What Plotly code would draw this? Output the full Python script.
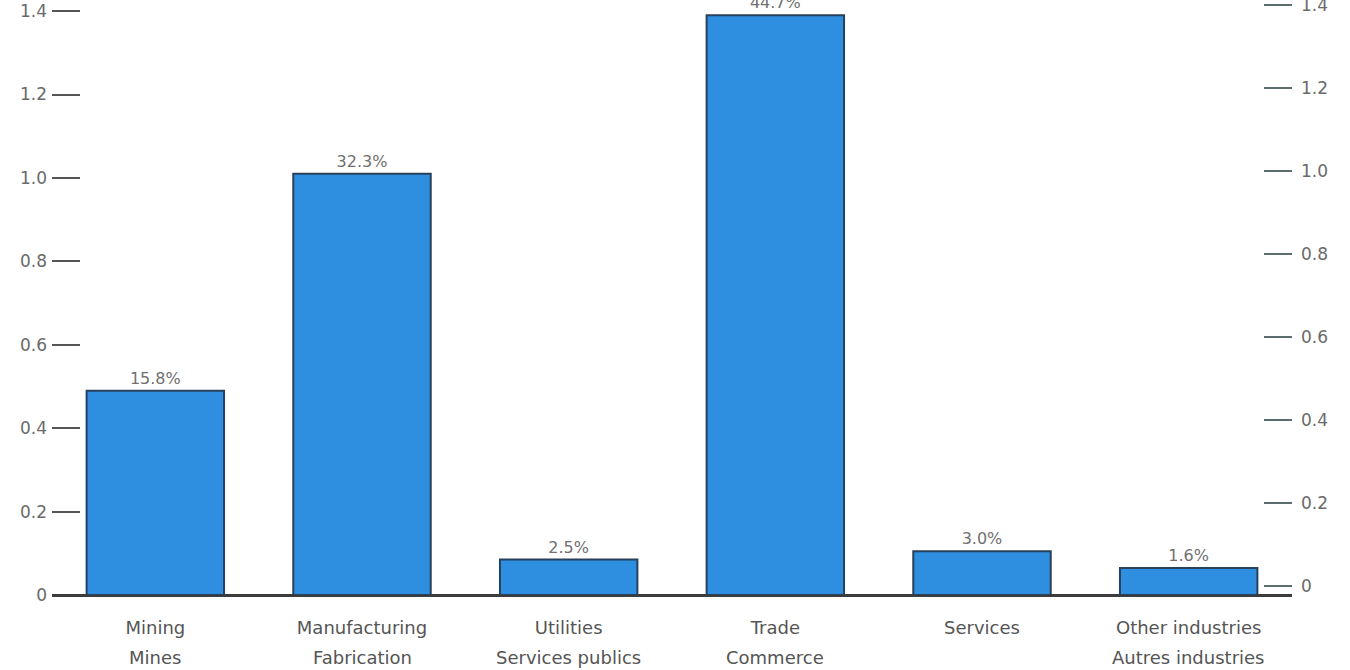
import plotly.graph_objects as go

categories_en = ["Mining", "Manufacturing", "Utilities", "Trade", "Services", "Other industries"]
categories_fr = ["Mines", "Fabrication", "Services publics", "Commerce", "", "Autres industries"]
values = [0.49, 1.01, 0.085, 1.39, 0.105, 0.065]
shares = ["15.8%", "32.3%", "2.5%", "44.7%", "3.0%", "1.6%"]
tick_vals = [0, 0.2, 0.4, 0.6, 0.8, 1.0, 1.2, 1.4]
tick_text = ["0", "0.2", "0.4", "0.6", "0.8", "1.0", "1.2", "1.4"]

FONT = "DejaVu Sans, Arial, sans-serif"

fig = go.Figure()
fig.add_trace(go.Bar(
    x=categories_en, y=values, text=shares, textposition="outside",
    cliponaxis=False,
    textfont=dict(family=FONT, size=16, color="#707070"),
    marker=dict(color="#2e8ee0", line=dict(color="#27415c", width=2)),
    width=0.665, showlegend=False, hoverinfo="skip",
))
# invisible trace so the right axis is drawn
fig.add_trace(go.Scatter(x=[categories_en[0]], y=[0], yaxis="y2", mode="markers",
                         marker=dict(opacity=0), showlegend=False, hoverinfo="skip"))

for cat, fr in zip(categories_en, categories_fr):
    if fr:
        fig.add_annotation(x=cat, xref="x", y=0, yref="paper", yshift=-62,
                           text=fr, showarrow=False, yanchor="middle",
                           font=dict(family=FONT, size=18, color="#555555"))

fig.update_layout(
    width=1350, height=670,
    margin=dict(l=52, r=58, t=4, b=75),
    paper_bgcolor="white", plot_bgcolor="white",
    xaxis=dict(showline=False, showgrid=False, zeroline=False, ticks="",
               tickfont=dict(family=FONT, size=18, color="#555555"),
               ticklabelstandoff=20, automargin=False),
    yaxis=dict(range=[0, 1.417], tickvals=tick_vals, ticktext=tick_text,
               showgrid=False, showline=False, zeroline=True, zerolinecolor="#3c3c3c",
               zerolinewidth=3, ticks="inside", ticklen=28, tickwidth=2, tickcolor="#555555",
               tickfont=dict(family=FONT, size=17, color="#6a6a6a"),
               ticklabelstandoff=4, automargin=False, ticklabeloverflow="allow"),
    yaxis2=dict(range=[-0.0217, 1.4035], overlaying="y", side="right",
                tickvals=tick_vals, ticktext=tick_text,
                showgrid=False, showline=False, zeroline=False,
                ticks="inside", ticklen=28, tickwidth=2, tickcolor="#5a6e6e",
                tickfont=dict(family=FONT, size=17, color="#6a6a6a"),
                ticklabelstandoff=8, automargin=False, ticklabeloverflow="allow"),
)

fig.write_html("out.html", config={"displayModeBar": False},
               post_script="document.body.style.margin='0';")
